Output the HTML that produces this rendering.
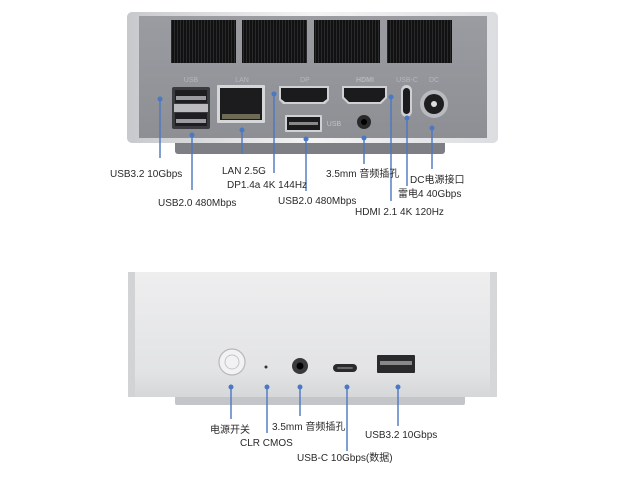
<!DOCTYPE html>
<html><head><meta charset="utf-8"><style>
html,body{margin:0;padding:0;background:#fff;}
body{width:619px;height:483px;position:relative;overflow:hidden;font-family:"Liberation Sans","Noto Sans CJK SC",sans-serif;}
.t{position:absolute;font-size:10px;color:#2a2a2a;white-space:nowrap;line-height:12px;}
</style></head><body>
<svg width="619" height="483" style="position:absolute;left:0;top:0">
<defs>
<linearGradient id="side" x1="0" x2="1"><stop offset="0" stop-color="#c8c9cc"/><stop offset="0.5" stop-color="#f4f4f5"/><stop offset="1" stop-color="#dcdde0"/></linearGradient>
<linearGradient id="face" x1="0" y1="0" x2="0" y2="1"><stop offset="0" stop-color="#9a9ca1"/><stop offset="1" stop-color="#8d8f94"/></linearGradient>
<linearGradient id="light" x1="0" y1="0" x2="0" y2="1"><stop offset="0" stop-color="#eeeeef"/><stop offset="0.8" stop-color="#e2e3e5"/><stop offset="1" stop-color="#d6d7d9"/></linearGradient>
<pattern id="vent" width="3" height="4" patternUnits="userSpaceOnUse"><rect width="3" height="4" fill="#111"/><rect width="1" height="4" fill="#2a2a2c"/></pattern>
</defs>
<rect x="175" y="135" width="270" height="19" rx="3" fill="#7d7f84"/>
<rect x="127" y="12" width="371" height="131" rx="5" fill="url(#side)"/>
<rect x="139" y="16" width="348" height="122" fill="url(#face)"/>
<rect x="171" y="20" width="65" height="43" fill="url(#vent)"/>
<rect x="242" y="20" width="65" height="43" fill="url(#vent)"/>
<rect x="314" y="20" width="66" height="43" fill="url(#vent)"/>
<rect x="387" y="20" width="65" height="43" fill="url(#vent)"/>
<g font-size="7" fill="#b5b7bb" font-family="Liberation Sans,sans-serif" text-anchor="middle">
<text x="191" y="82">USB</text><text x="242" y="82">LAN</text><text x="305" y="82">DP</text><text x="365" y="82" font-weight="bold">HDMI</text><text x="407" y="82">USB-C</text><text x="434" y="82">DC</text>
<text x="334" y="126" fill="#c0c2c5">USB</text>
</g>
<rect x="172" y="87" width="38" height="42" rx="2" fill="#3a3b3e"/>
<rect x="175" y="90" width="32" height="13" fill="#1e1e20"/><rect x="176" y="96" width="30" height="4" fill="#9a9ca0"/>
<rect x="174" y="104" width="34" height="8" fill="#b9bbbf"/>
<rect x="175" y="113" width="32" height="13" fill="#1e1e20"/><rect x="176" y="119" width="30" height="4" fill="#9a9ca0"/>
<rect x="217" y="85" width="48" height="38" rx="1" fill="#d5d6d8"/>
<rect x="220" y="88" width="42" height="32" fill="#1c1c1e"/>
<rect x="222" y="114" width="38" height="5" fill="#6d6a55"/>
<path d="M279 86 H329 V100 L325 104 H283 L279 100 Z" fill="#d0d1d4"/>
<path d="M281 88 H327 V99 L323 102 H285 L281 99 Z" fill="#1b1b1d"/>
<path d="M342 86 H387 V98 L381 104 H348 L342 98 Z" fill="#d0d1d4"/>
<path d="M344 88 H385 V97 L380 102 H349 L344 97 Z" fill="#1b1b1d"/>
<rect x="285" y="115" width="37" height="17" rx="1" fill="#d0d1d4"/>
<rect x="287" y="117" width="33" height="13" fill="#1b1b1d"/><rect x="289" y="122" width="29" height="3" fill="#888"/>
<circle cx="364" cy="122" r="7" fill="#2a2a2c"/><circle cx="364" cy="122" r="3" fill="#000"/>
<rect x="401" y="85" width="11" height="32" rx="5.5" fill="#cfd0d3"/>
<rect x="403" y="88" width="7" height="26" rx="3.5" fill="#1b1b1d"/>
<circle cx="434" cy="104" r="14" fill="#b8babe"/><circle cx="434" cy="104" r="10" fill="#1e1e20"/><circle cx="434" cy="104" r="3" fill="#ddd"/>
<rect x="175" y="392" width="290" height="13" rx="2" fill="#c4c5c8"/>
<rect x="128" y="272" width="369" height="125" rx="5" fill="url(#light)"/>
<rect x="128" y="272" width="7" height="125" fill="#d2d3d5"/>
<rect x="490" y="272" width="7" height="125" fill="#d6d7d9"/>
<circle cx="232" cy="362" r="13" fill="#f2f2f3" stroke="#b7b8bb" stroke-width="1.2"/><circle cx="232" cy="362" r="7" fill="none" stroke="#c4c5c8"/>
<circle cx="266" cy="367" r="1.5" fill="#333"/>
<circle cx="300" cy="366" r="8" fill="#3a3a3c"/><circle cx="300" cy="366" r="3.5" fill="#000"/>
<rect x="333" y="364" width="24" height="8" rx="4" fill="#2a2a2c"/><rect x="337" y="367" width="16" height="2" rx="1" fill="#666"/>
<rect x="377" y="355" width="38" height="18" rx="1" fill="#2a2a2c"/><rect x="380" y="361" width="32" height="4" fill="#888"/>
<g stroke="#4a78c2" stroke-width="1.4" fill="none">
<path d="M160 99 V158"/><path d="M192 135 V190"/><path d="M242 130 V154"/><path d="M274 94 V173"/>
<path d="M306 139 V191"/><path d="M364 138 V164"/><path d="M391 97 V201"/><path d="M407 118 V186"/><path d="M432 128 V169"/>
<path d="M231 387 V419"/><path d="M267 387 V433"/><path d="M300 387 V416"/><path d="M347 387 V451"/><path d="M398 387 V426"/>
</g>
<g fill="#4a78c2">
<circle cx="160" cy="99" r="2.5"/><circle cx="192" cy="135" r="2.5"/><circle cx="242" cy="130" r="2.5"/><circle cx="274" cy="94" r="2.5"/>
<circle cx="306" cy="139" r="2.5"/><circle cx="364" cy="138" r="2.5"/><circle cx="391" cy="97" r="2.5"/><circle cx="407" cy="118" r="2.5"/><circle cx="432" cy="128" r="2.5"/>
<circle cx="231" cy="387" r="2.5"/><circle cx="267" cy="387" r="2.5"/><circle cx="300" cy="387" r="2.5"/><circle cx="347" cy="387" r="2.5"/><circle cx="398" cy="387" r="2.5"/>
</g>
</svg>
<div class="t" style="left:110px;top:169px">USB3.2 10Gbps</div>
<div class="t" style="left:158px;top:198px">USB2.0 480Mbps</div>
<div class="t" style="left:222px;top:166px">LAN 2.5G</div>
<div class="t" style="left:227px;top:180px">DP1.4a 4K 144Hz</div>
<div class="t" style="left:278px;top:196px">USB2.0 480Mbps</div>
<div class="t" style="left:326px;top:169px">3.5mm 音频插孔</div>
<div class="t" style="left:410px;top:175px">DC电源接口</div>
<div class="t" style="left:398px;top:189px">雷电4 40Gbps</div>
<div class="t" style="left:355px;top:207px">HDMI 2.1 4K 120Hz</div>
<div class="t" style="left:210px;top:425px">电源开关</div>
<div class="t" style="left:240px;top:438px">CLR CMOS</div>
<div class="t" style="left:272px;top:422px">3.5mm 音频插孔</div>
<div class="t" style="left:365px;top:430px">USB3.2 10Gbps</div>
<div class="t" style="left:297px;top:453px">USB-C 10Gbps(数据)</div>
</body></html>
